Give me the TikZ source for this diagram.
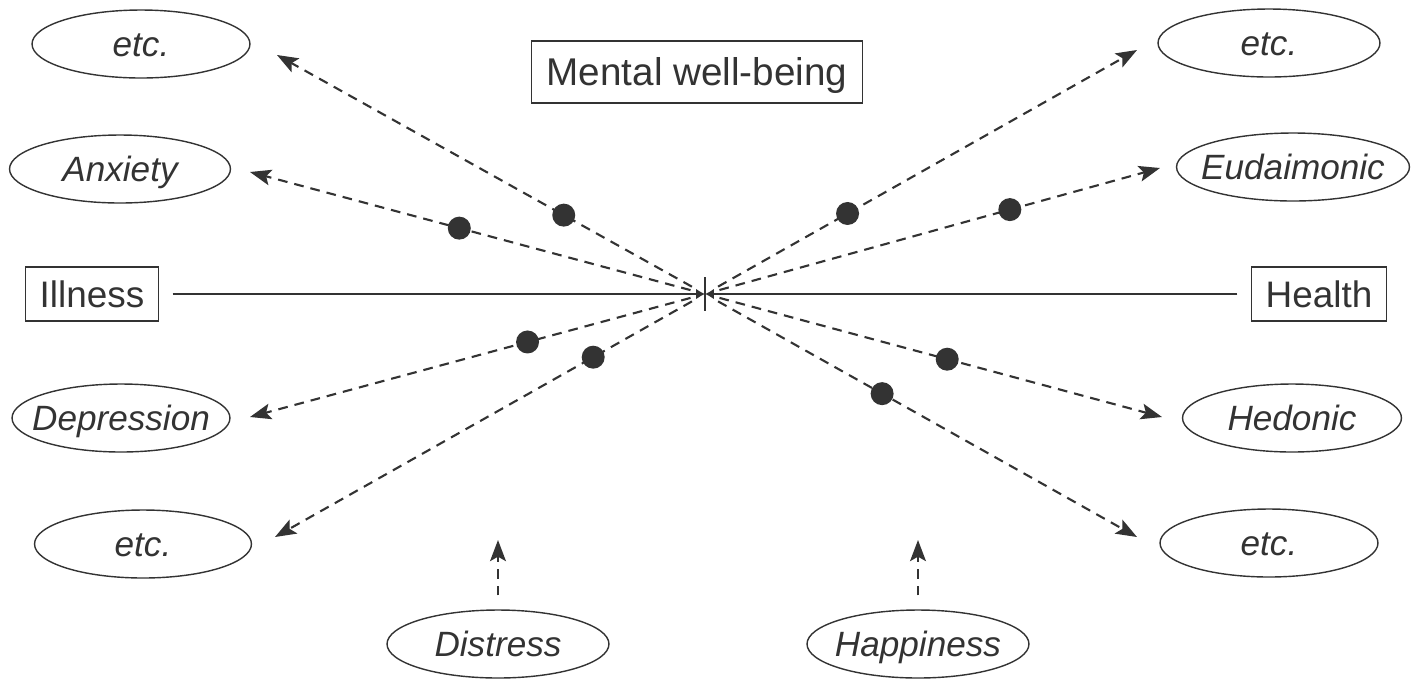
\documentclass[tikz,border=0pt]{standalone}
\usepackage{fontspec}
\setmainfont{Liberation Sans}
\usetikzlibrary{arrows.meta,shapes.geometric}
\definecolor{ink}{HTML}{333333}
\newcommand{\ital}[1]{\makebox[0pt]{\itshape #1}}
\tikzset{
  ell/.style={draw=ink,text=ink,ellipse,line width=0.8pt,inner sep=0pt,minimum height=1.36cm,
    text height=14.3pt,text depth=0pt,font=\fontsize{20}{24}\selectfont},
  box/.style={draw=ink,text=ink,rectangle,line width=0.8pt,inner sep=0pt,minimum height=1.08cm,
    text height=15pt,text depth=0pt,font=\fontsize{21}{25}\selectfont},
  dasharrow/.style={ink,line width=1.2pt,dash pattern=on 5.5pt off 4pt,shorten <=0.3cm,
    -{Stealth[length=12pt,width=9pt,inset=2.5pt]}},
  uparrow/.style={dasharrow,shorten <=0.28cm},
  solidarrow/.style={ink,line width=0.9pt,shorten <=0.27cm,-{Latex[length=5pt,width=6pt]}},
  dot/.style={circle,fill=ink,inner sep=0pt,minimum size=0.46cm}
}
\begin{document}
\begin{tikzpicture}[x=0.02cm,y=-0.02cm]
\useasboundingbox (0,0) rectangle (1424,681);
\coordinate (ctr) at (705,294);
% boxes
\node[box,minimum width=6.62cm,minimum height=1.24cm,font=\fontsize{22}{26}\selectfont] (mwb) at (697,72) {Mental well-being};
\node[box,minimum width=2.66cm] (ill) at (92,294) {Illness};
\node[box,minimum width=2.7cm] (hlth) at (1319,294) {Health};
% ellipses
\node[ell,minimum width=4.36cm] (etcTL) at (141,44) {\ital{etc.}};
\node[ell,minimum width=4.42cm] (anx) at (120,169) {\ital{Anxiety}};
\node[ell,minimum width=4.36cm] (dep) at (121,418) {\ital{Depression}};
\node[ell,minimum width=4.34cm] (etcBL) at (143,544) {\ital{etc.}};
\node[ell,minimum width=4.44cm] (etcTR) at (1269,43) {\ital{etc.}};
\node[ell,minimum width=4.66cm] (eud) at (1293,167) {\ital{Eudaimonic}};
\node[ell,minimum width=4.38cm] (hed) at (1292,418) {\ital{Hedonic}};
\node[ell,minimum width=4.36cm] (etcBR) at (1269,543) {\ital{etc.}};
\node[ell,minimum width=4.44cm] (dis) at (498,644) {\ital{Distress}};
\node[ell,minimum width=4.44cm] (hap) at (918,644) {\ital{Happiness}};
% arrow tips
\coordinate (tTL) at (277,55); \coordinate (tAn) at (250,172);
\coordinate (tDe) at (250,417); \coordinate (tBL) at (275,537);
\coordinate (tTR) at (1137,50); \coordinate (tEu) at (1160,168);
\coordinate (tHe) at (1162,417); \coordinate (tBR) at (1137,537);
\coordinate (tDi) at (498,540); \coordinate (tHa) at (918,540);
% axis
\draw[solidarrow] (ill) -- (ctr); \draw[solidarrow] (hlth) -- (ctr);
\draw[ink,line width=0.9pt] ([yshift=0.34cm]ctr) -- ([yshift=-0.34cm]ctr);
% dashed arrows
\draw[dasharrow] (ctr) -- node[dot,pos=.33]{} (tTL);
\draw[dasharrow] (ctr) -- node[dot,pos=.54]{} (tAn);
\draw[dasharrow] (ctr) -- node[dot,pos=.39]{} (tDe);
\draw[dasharrow] (ctr) -- node[dot,pos=.26]{} (tBL);
\draw[dasharrow] (ctr) -- node[dot,pos=.33]{} (tTR);
\draw[dasharrow] (ctr) -- node[dot,pos=.67]{} (tEu);
\draw[dasharrow] (ctr) -- node[dot,pos=.53]{} (tHe);
\draw[dasharrow] (ctr) -- node[dot,pos=.41]{} (tBR);
\draw[uparrow] (dis) -- (tDi); \draw[uparrow] (hap) -- (tHa);
\end{tikzpicture}
\end{document}
